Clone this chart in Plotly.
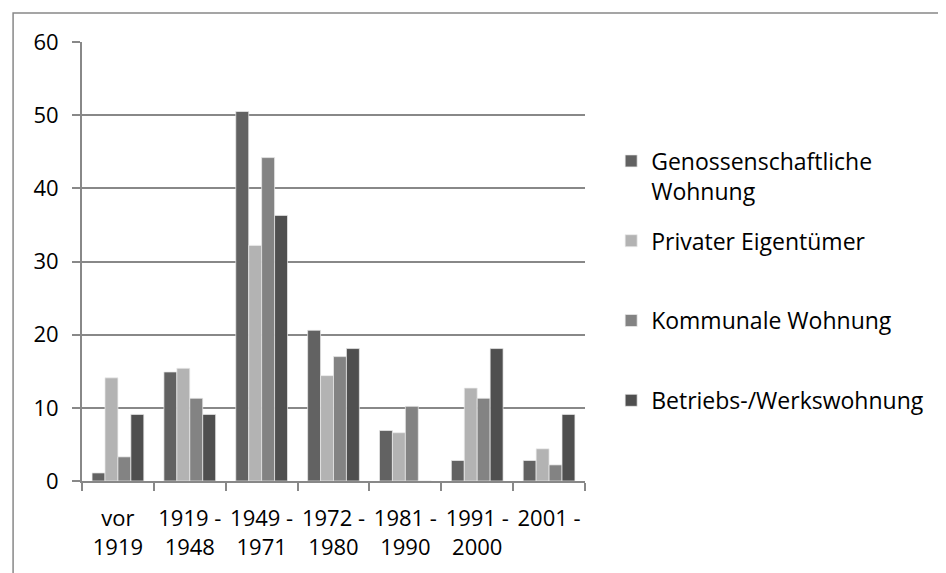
import plotly.graph_objects as go

# Baujahr der Wohnung nach Eigentümerart (Anteil in %)
categories = ["vor<br>1919", "1919 -<br>1948", "1949 -<br>1971", "1972 -<br>1980",
              "1981 -<br>1990", "1991 -<br>2000", "2001 -"]

genossenschaft = [1.1, 14.9, 50.5, 20.6, 6.9, 2.8, 2.8]
privat = [14.1, 15.4, 32.2, 14.4, 6.6, 12.7, 4.4]
kommunal = [3.3, 11.3, 44.2, 17.0, 10.2, 11.3, 2.2]
betrieb = [9.1, 9.1, 36.3, 18.1, 0, 18.1, 9.1]

series = [
    ("Genossenschaftliche<br>Wohnung", genossenschaft, "#626262"),
    ("Privater Eigentümer<br> ", privat, "#b3b3b3"),
    ("Kommunale Wohnung<br> ", kommunal, "#838383"),
    ("Betriebs-/Werkswohnung<br> ", betrieb, "#4f4f4f"),
]

FONT = "Open Sans"
AXIS_GRAY = "#888888"

fig = go.Figure()
for i, (name, vals, color) in enumerate(series):
    fig.add_trace(go.Bar(
        x=categories,
        y=vals,
        name=name,
        legendgroup=f"g{i}",
        marker=dict(color=color, line=dict(color="rgba(235,235,235,0.9)", width=0.8)),
    ))

fig.update_layout(
    width=946,
    height=573,
    margin=dict(l=74, r=369, t=34, b=100),
    paper_bgcolor="white",
    plot_bgcolor="white",
    barmode="group",
    bargap=0.28,
    bargroupgap=0,
    font=dict(family=FONT, size=22, color="black"),
    legend=dict(
        x=1.052, y=0.778, xanchor="left", yanchor="top",
        valign="top",
        tracegroupgap=17,
        font=dict(size=23),
        traceorder="grouped",
    ),
)

fig.update_xaxes(
    showline=True, linecolor=AXIS_GRAY, linewidth=2,
    ticks="outside", tickson="boundaries", ticklen=8, tickcolor=AXIS_GRAY, tickwidth=1.5,
    tickfont=dict(size=22),
    tickangle=0,
    automargin=False,
    ticklabelstandoff=17,
    showgrid=False,
)
fig.update_yaxes(
    range=[0, 60], dtick=10,
    showline=True, linecolor=AXIS_GRAY, linewidth=2,
    ticks="outside", ticklen=8, tickcolor=AXIS_GRAY, tickwidth=1.5,
    showgrid=True, gridcolor=AXIS_GRAY, gridwidth=1.5,
    zeroline=False,
    automargin=False,
    tickfont=dict(size=22),
    ticklabelstandoff=9,
)

# outer chart frame (cut off at right and bottom like the source)
fig.add_shape(
    type="rect", xref="paper", yref="paper",
    x0=-0.137, x1=1.8, y0=-0.3, y1=1.066,
    line=dict(color=AXIS_GRAY, width=1.5), fillcolor="rgba(0,0,0,0)",
    layer="below",
)

fig.write_html("out.html")
